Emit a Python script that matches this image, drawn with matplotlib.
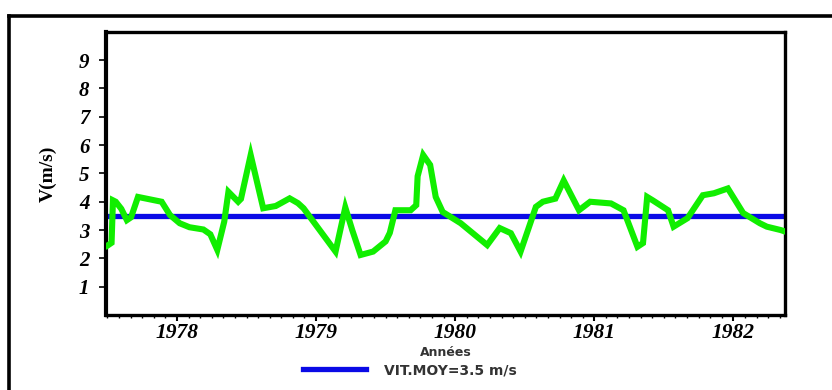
import numpy as np
import matplotlib
matplotlib.use("Agg")
import matplotlib.pyplot as plt
from matplotlib.lines import Line2D
from matplotlib.ticker import MultipleLocator

# Mean wind speed series (decimal years, m/s)
years = [1977.50, 1977.53, 1977.54, 1977.56, 1977.60, 1977.64, 1977.67, 1977.72,
         1977.81, 1977.89, 1977.95, 1978.02, 1978.09, 1978.19, 1978.24, 1978.29,
         1978.34, 1978.37, 1978.44, 1978.46, 1978.53, 1978.62, 1978.71, 1978.81,
         1978.87, 1978.91, 1979.14, 1979.21, 1979.26, 1979.32, 1979.41, 1979.50,
         1979.53, 1979.57, 1979.68, 1979.72, 1979.73, 1979.77, 1979.82, 1979.86,
         1979.91, 1980.04, 1980.23, 1980.32, 1980.40, 1980.47, 1980.53, 1980.58,
         1980.63, 1980.72, 1980.78, 1980.89, 1980.97, 1981.12, 1981.21, 1981.31,
         1981.35, 1981.38, 1981.42, 1981.53, 1981.57, 1981.67, 1981.78, 1981.86,
         1981.96, 1982.07, 1982.19, 1982.24, 1982.34, 1982.37]
speed = [2.45, 2.55, 4.05, 4.00, 3.75, 3.35, 3.45, 4.17,
         4.08, 4.00, 3.53, 3.24, 3.10, 3.02, 2.85, 2.30,
         3.30, 4.35, 4.00, 4.10, 5.65, 3.77, 3.85, 4.12,
         3.95, 3.77, 2.24, 3.80, 3.00, 2.12, 2.24, 2.60,
         2.90, 3.70, 3.70, 3.88, 4.90, 5.65, 5.30, 4.17,
         3.64, 3.24, 2.47, 3.07, 2.89, 2.24, 3.10, 3.82,
         4.00, 4.11, 4.75, 3.70, 4.00, 3.94, 3.70, 2.41,
         2.54, 4.17, 4.05, 3.70, 3.12, 3.42, 4.23, 4.30,
         4.47, 3.60, 3.24, 3.12, 3.00, 2.95]
mean_speed = 3.5
year_labels = [1978, 1979, 1980, 1981, 1982]
y_ticks = [1, 2, 3, 4, 5, 6, 7, 8, 9]

fig = plt.figure(figsize=(8.32, 3.9), dpi=100)
ax = fig.add_axes([0.1274, 0.1923, 0.816, 0.726])

ax.plot(years, speed, color="#11ee00", lw=4.4, solid_joinstyle="miter", zorder=3)
ax.axhline(mean_speed, color="#0a0ae6", lw=3.8, zorder=2,
           label=f"VIT.MOY={mean_speed} m/s")

ax.set_xlim(1977.49, 1982.37)
ax.set_ylim(0, 10)

tick_font = dict(family="Liberation Serif", weight="bold", style="italic")
ax.set_xticks(year_labels)
ax.set_xticklabels([str(y) for y in year_labels], fontsize=15.5, **tick_font)
ax.xaxis.set_minor_locator(MultipleLocator(1 / 12))
ax.set_yticks(y_ticks)
ax.set_yticklabels([str(v) for v in y_ticks], fontsize=15, **tick_font)

ax.tick_params(axis="x", which="major", length=4, width=1.5, pad=2)
ax.tick_params(axis="x", which="minor", length=2, width=1)
ax.tick_params(axis="y", length=5, width=1.2, pad=7)

for s in ax.spines.values():
    s.set_linewidth(2.4)
ax.spines["left"].set_linewidth(3)

ax.set_ylabel("V(m/s)", family="Liberation Serif", weight="bold", fontsize=14,
              labelpad=16)
ax.set_xlabel("Années", family="DejaVu Sans", weight="bold", fontsize=9,
              color="#333333", labelpad=2)

leg = ax.legend(loc="center", bbox_to_anchor=(0.448, -0.195), frameon=False,
                handlelength=4.5, handletextpad=1.3, borderpad=0,
                prop=dict(family="DejaVu Sans", weight="bold", size=10))
for t in leg.get_texts():
    t.set_color("#333333")

# outer frame
fig.add_artist(Line2D([0.011, 1.0], [0.96, 0.96], transform=fig.transFigure,
                      color="black", lw=2.6))
fig.add_artist(Line2D([0.011, 0.011], [0.0, 0.96], transform=fig.transFigure,
                      color="black", lw=2.6))

fig.savefig("out.png", dpi=100)
